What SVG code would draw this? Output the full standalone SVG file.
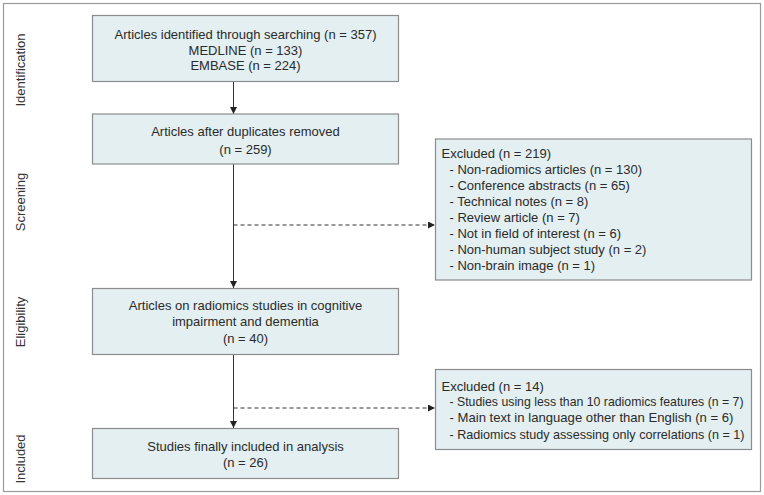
<svg xmlns="http://www.w3.org/2000/svg" width="764" height="495" viewBox="0 0 764 495">
<style>
text{font-family:"Liberation Sans",Arial,sans-serif;font-size:13px;fill:#2b2b2b}
.box{fill:#e3eff1;stroke:#8c8c8c;stroke-width:1.2}
.c{text-anchor:middle}
.side{text-anchor:middle;fill:#333}
.ln{stroke:#333;stroke-width:1;fill:none}
.dash{stroke-dasharray:4 3}
</style>
<defs>
<marker id="ah" viewBox="0 0 10 10" refX="10" refY="5" markerWidth="7" markerHeight="7" markerUnits="userSpaceOnUse" orient="auto">
<path d="M0,0 L10,5 L0,10 z" fill="#222"/>
</marker>
</defs>
<rect x="3.5" y="3.5" width="757" height="488" fill="#fff" stroke="#9a9a9a" stroke-width="1.2"/>
<g id="stages">
<text class="side" transform="translate(25,70) rotate(-90)">Identification</text>
<text class="side" transform="translate(25,202) rotate(-90)">Screening</text>
<text class="side" transform="translate(25,322) rotate(-90)">Eligibility</text>
<text class="side" transform="translate(25,459) rotate(-90)">Included</text>
</g>
<g id="connectors">
<line class="ln" x1="233.5" y1="82" x2="233.5" y2="114" marker-end="url(#ah)"/>
<line class="ln" x1="233.5" y1="164" x2="233.5" y2="288" marker-end="url(#ah)"/>
<line class="ln dash" x1="233.5" y1="225" x2="435" y2="225" marker-end="url(#ah)"/>
<line class="ln" x1="233.5" y1="354" x2="233.5" y2="428" marker-end="url(#ah)"/>
<line class="ln dash" x1="233.5" y1="408" x2="435" y2="408" marker-end="url(#ah)"/>
</g>
<g id="n1">
<rect class="box" x="92.5" y="15.5" width="306" height="66"/>
<text class="c" x="245.5" y="38.5">Articles identified through searching (n = 357)</text>
<text class="c" x="245.5" y="54.5">MEDLINE (n = 133)</text>
<text class="c" x="245.5" y="70">EMBASE (n = 224)</text>
</g>
<g id="n2">
<rect class="box" x="92.5" y="114" width="306" height="50"/>
<text class="c" x="245.5" y="136">Articles after duplicates removed</text>
<text class="c" x="245.5" y="153.5">(n = 259)</text>
</g>
<g id="n3">
<rect class="box" x="435.5" y="139" width="316" height="141"/>
<text x="441.5" y="158">Excluded (n = 219)</text>
<text x="449.5" y="174">- Non-radiomics articles (n = 130)</text>
<text x="449.5" y="190">- Conference abstracts (n = 65)</text>
<text x="449.5" y="206">- Technical notes (n = 8)</text>
<text x="449.5" y="222">- Review article (n = 7)</text>
<text x="449.5" y="238">- Not in field of interest (n = 6)</text>
<text x="449.5" y="254">- Non-human subject study (n = 2)</text>
<text x="449.5" y="270">- Non-brain image (n = 1)</text>
</g>
<g id="n4">
<rect class="box" x="92.5" y="288.5" width="306" height="66"/>
<text class="c" x="245.5" y="310">Articles on radiomics studies in cognitive</text>
<text class="c" x="245.5" y="326">impairment and dementia</text>
<text class="c" x="245.5" y="342.5">(n = 40)</text>
</g>
<g id="n5">
<rect class="box" x="435.5" y="369.5" width="316" height="80"/>
<text x="441.5" y="390.5">Excluded (n = 14)</text>
<text x="449.5" y="406" textLength="294" lengthAdjust="spacingAndGlyphs">- Studies using less than 10 radiomics features (n = 7)</text>
<text x="449.5" y="422" textLength="284" lengthAdjust="spacingAndGlyphs">- Main text in language other than English (n = 6)</text>
<text x="449.5" y="438.5" textLength="295" lengthAdjust="spacingAndGlyphs">- Radiomics study assessing only correlations (n = 1)</text>
</g>
<g id="n6">
<rect class="box" x="92.5" y="428.5" width="306" height="50"/>
<text class="c" x="245.5" y="450.5">Studies finally included in analysis</text>
<text class="c" x="245.5" y="467">(n = 26)</text>
</g>
</svg>
